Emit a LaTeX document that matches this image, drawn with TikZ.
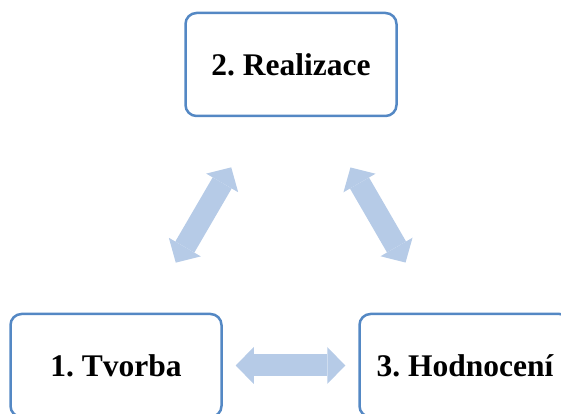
\documentclass[tikz,border=0pt]{standalone}
\usepackage{fontspec}
\setmainfont{Liberation Serif}
\usetikzlibrary{arrows.meta}
\definecolor{boxblue}{RGB}{84,136,196}
\definecolor{arrowblue}{RGB}{182,203,231}
\frenchspacing

\begin{document}
\begin{tikzpicture}[x=1pt,y=1pt,
    phase/.style={draw=boxblue, line width=2.5pt, rounded corners=11pt,
      minimum width=211pt, minimum height=103pt,
      font=\fontsize{31.5}{36}\selectfont\bfseries},
    link/.style={arrowblue, line width=22pt,
      {Triangle[length=18pt,width=37pt,line width=0pt]}-{Triangle[length=18pt,width=37pt,line width=0pt]}}]
    \useasboundingbox (0,0) rectangle (561,414);
    \clip (0,0) rectangle (561,414);
    \node[phase] (realizace) at (291,349.5) {2. Realizace};
    \node[phase] (tvorba) at (116,48.5) {1. Tvorba};
    \node[phase] (hodnoceni) at (465,48.5) {3. Hodnocení};
    \draw[link, shorten <=58pt, shorten >=58pt] (realizace) -- (tvorba);
    \draw[link, shorten <=58pt, shorten >=58pt] (realizace) -- (hodnoceni);
    \draw[link, shorten <=13pt, shorten >=13pt] (tvorba) -- (hodnoceni);
  \end{tikzpicture}
\end{document}
